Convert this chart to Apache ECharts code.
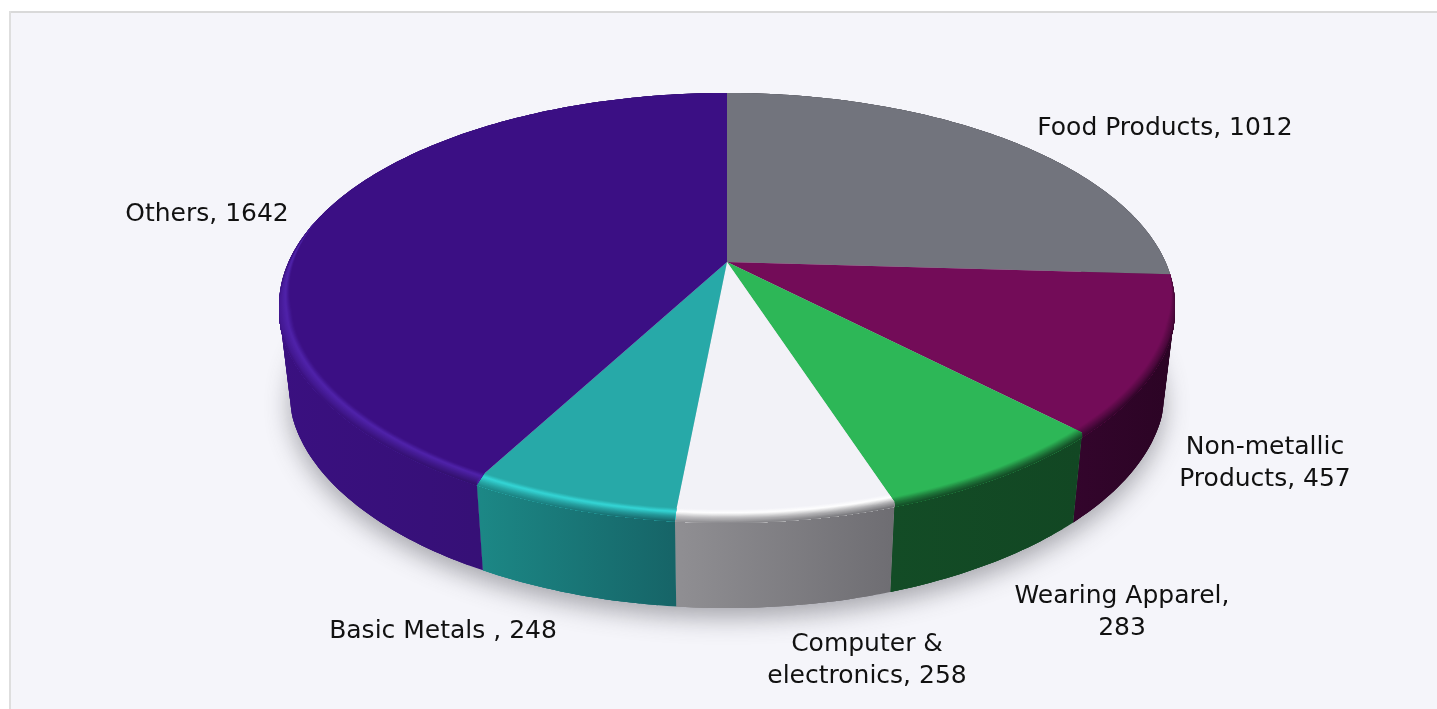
<!DOCTYPE html>
<html><head><meta charset="utf-8">
<style>html,body{margin:0;padding:0;background:#fff}#c{width:1437px;height:709px}</style>
<script src="https://cdn.jsdelivr.net/npm/echarts@6/dist/echarts.min.js"></script>
</head><body><div id="c"></div>
<script>
const categories = ['Food Products','Non-metallic Products','Wearing Apparel','Computer & electronics','Basic Metals ','Others'];
const values = [1012,457,283,258,248,1642];
const labelLines = [['Food Products, 1012'],['Non-metallic','Products, 457'],['Wearing Apparel,','283'],['Computer &','electronics, 258'],['Basic Metals , 248'],['Others, 1642']];
const topColors = ['#72747d','#730c58','#2db757','#f2f2f7','#27a9a8','#3b0f84'];
const edgeColors = ['#72747d','#730c58','#2db757','#ffffff','#34d6d6','#4f22aa'];
const sideLeft = ['#5a5a62','#33052c','#134c26','#908f93','#1c8886','#3a1080'];
const sideRight = ['#5a5a62','#2b0424','#124723','#6e6d72','#166467','#31106b'];

// layout of the tilted disc
const CX=727, CY=262, PERSP=0.2047, RX=438.5, RY=203.6, DEPTH=90, TAPER=0.975, BEVEL=0.027, SOFT=5;
const labelCenters = [[1165,128],[1265,463],[1122,612],[867,660],[443,631],[207,214]];

const total = values.reduce((a,b)=>a+b,0);
const starts = []; values.reduce((a,v,i)=>(starts[i]=a,a+v),0);
const rad = d=>d*Math.PI/180;
function proj(deg,r,low,dy){
  const u=r*Math.sin(rad(deg)), v=r*Math.cos(rad(deg)), w=1+PERSP*v;
  const xf=1+0.02*Math.min(0,v+0.3)/0.7;
  let x=RX*u/w*xf, y=-RY*v/w+(dy||0);
  if(low){x*=TAPER; y+=DEPTH;}
  return [CX+x,CY+y];
}
function steps(a,b){
  const n=Math.max(2,Math.ceil(Math.abs(b-a))), d=[];
  for(let i=0;i<=n;i++) d.push(a+(b-a)*i/n);
  return d;
}
const arc=(a,b,low)=>steps(a,b).map(d=>proj(d,1,low));
const hex=c=>[1,3,5].map(i=>parseInt(c.substr(i,2),16));
const mix=(a,b,t)=>{const A=hex(a),B=hex(b);return '#'+A.map((x,i)=>Math.round(x+(B[i]-x)*t).toString(16).padStart(2,'0')).join('');};
const grad=(x0,x1,c0,c1)=>({type:'linear',x:x0,y:0,x2:x1,y2:0,global:true,colorStops:[{offset:0,color:c0},{offset:1,color:c1}]});
const angles=i=>[starts[i]/total*360,(starts[i]+values[i])/total*360];

function sideItem(p,api){
  const i=p.dataIndex,[a,b]=angles(i);
  const top=arc(a,b,false), low=arc(a,b,true);
  const xs=top.concat(low).map(q=>q[0]);
  const x0=Math.min(...xs), x1=Math.max(...xs), fill=grad(x0,x1,sideLeft[i],sideRight[i]);
  const children=[];
  const last=top.length-1;
  for(let k=0;k<last;k+=2){
    const n=Math.min(last,k+6);
    children.push({type:'polygon',shape:{points:top.slice(k,n+1).concat(low.slice(k,n+1).reverse())},style:{fill}});
  }
  return {type:'group',children};
}
function topItem(p,api){
  const i=p.dataIndex,[a,b]=angles(i);
  const children=[{type:'polygon',shape:{points:[[CX,CY]].concat(arc(a,b,false))},style:{fill:topColors[i]}}];
  // rounded edge between the top face and the side, only on the front of the disc
  const s=Math.max(a,93), e=Math.min(b,282);
  if(e>s){
    const N=16, xs=arc(s,e,false).map(q=>q[0]), x0=Math.min(...xs), x1=Math.max(...xs);
    const taper=d=>Math.max(0,Math.min(1,(d-93)/14,(282-d)/26));
    const ring=(d,t)=>{
      const w=taper(d);
      return t<0.72?proj(d,1-BEVEL*w*(1-t/0.72),false):proj(d,1,false,SOFT*w*(t-0.72)/0.28);
    };
    const ds=steps(s,e);
    for(let k=0;k<N;k++){
      const t0=k/N,t=(k+0.5)/N;
      const pts=ds.map(d=>ring(d,t0)).concat(ds.slice().reverse().map(d=>ring(d,1)));
      const c=h=>t<0.3?mix(topColors[i],edgeColors[i],t/0.3):mix(edgeColors[i],h,(t-0.3)/0.7);
      children.push({type:'polygon',shape:{points:pts},style:{fill:grad(x0,x1,c(sideLeft[i]),c(sideRight[i]))}});
    }
  }
  return {type:'group',children};
}
function shadowItem(){
  return {type:'polygon',shape:{points:arc(0,360,true)},style:{fill:'#cfcfd4',shadowBlur:24,shadowColor:'rgba(70,70,80,0.45)',shadowOffsetY:10}};
}
const chart=echarts.init(document.getElementById('c'),null,{renderer:'canvas'});
const data=categories.map((n,i)=>({name:n,value:values[i]}));
chart.setOption({
  animation:false,
  backgroundColor:'#ffffff',
  graphic:[
    {type:'rect',silent:true,z:-10,shape:{x:10,y:12,width:1427,height:697},style:{fill:'#f5f5fa'}},
    {type:'rect',silent:true,z:-9,shape:{x:10,y:11,width:1427,height:2},style:{fill:'#d9d9d9'}},
    {type:'rect',silent:true,z:-9,shape:{x:9,y:11,width:2,height:698},style:{fill:'#dedede'}}
  ].concat(labelLines.map((l,i)=>({type:'text',z:50,silent:true,x:labelCenters[i][0],y:labelCenters[i][1],
    style:{text:l.join('\n'),fill:'#111111',font:'25px "DejaVu Sans"',lineHeight:32,align:'center',verticalAlign:'middle'}}))),
  series:[
    {type:'custom',coordinateSystem:'none',z:1,silent:true,data:[total],renderItem:shadowItem},
    {type:'custom',coordinateSystem:'none',z:2,silent:true,data,renderItem:sideItem},
    {type:'custom',coordinateSystem:'none',z:3,silent:true,data,renderItem:topItem}
  ]
});
</script></body></html>
